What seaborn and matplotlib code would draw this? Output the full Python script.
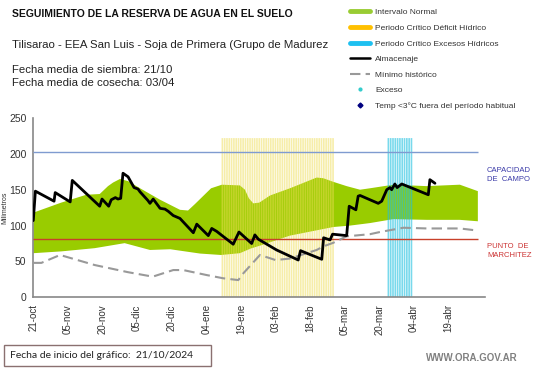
import numpy as np
import matplotlib
matplotlib.use("Agg")
import matplotlib.pyplot as plt
from matplotlib.lines import Line2D
from matplotlib.patches import Rectangle
import seaborn as sns

# Dias contados desde el inicio del grafico (21/10/2024)
alm_dia = [0.0, 0.9, 9.0, 9.5, 16.0, 16.9, 28.8, 29.8, 32.7, 33.8, 35.6, 36.7, 37.9,
           38.9, 41.1, 43.7, 45.4, 46.3, 49.7, 50.6, 52.0, 55.0, 57.1, 58.5, 60.7,
           63.6, 69.4, 70.9, 75.9, 77.4, 79.5, 86.7, 89.2, 94.7, 96.1, 97.6, 105.5,
           114.9, 115.9, 125.1, 125.9, 128.7, 129.8, 135.9, 137.0, 139.9, 140.9,
           141.7, 149.6, 151.1, 153.3, 154.7, 155.4, 156.8, 157.8, 159.8, 171.3,
           172.0, 174.2]
alm_mm = [107, 148, 134, 146, 133, 163, 127, 137, 127, 136, 139, 137, 138,
          173, 168, 153, 151, 147, 135, 131, 137, 124, 123, 120, 114,
          110, 90, 102, 86, 96, 92, 74, 91, 75, 87, 81, 66,
          52, 65, 53, 83, 80, 88, 86, 127, 122, 141,
          142, 131, 134, 150, 153, 150, 158, 153, 158, 143,
          164, 159]

sup_dia = [0, 12.1, 23.0, 28.8, 32.4, 34.6, 37.6, 41.1, 46.3, 55.0, 63.6, 67.1, 70.1,
           77.1, 81.8, 89.6, 91.8, 93.5, 95.4, 98.0, 102.7, 111.3, 122.9, 125.8,
           130.1, 135.9, 141.7, 146.0, 156.1, 170.6, 185.0, 192.8]
sup_mm = [118, 132, 143, 144, 155, 160, 165, 162, 152, 136, 122, 121, 130,
          152, 157, 156, 150, 138, 131, 132, 142, 152, 167, 166,
          161, 155, 150, 152, 157, 155, 157, 148]

inf_dia = [0, 12.1, 26.6, 39.6, 50.6, 59.4, 72.3, 81.4, 89.6, 94.3, 98.3, 111.3,
           130.1, 137.4, 146.0, 156.1, 170.6, 185.0, 192.8]
inf_mm = [61.5, 64, 68.5, 75.5, 66, 67, 61, 59, 61.5, 68, 72, 86,
          98, 100, 103.5, 109, 108, 108, 106]

min_dia = [0, 3.5, 11.6, 26.6, 41.1, 49.7, 52.0, 60.7, 65.0, 75.2, 82.4, 88.9, 91.1,
           98.3, 105.0, 111.3, 122.9, 125.8, 130.1, 135.9, 146.0, 150.3, 160.5,
           170.6, 185.0, 192.8]
min_mm = [48, 48, 59, 45, 35, 30, 29, 38, 38, 31, 26.5, 24, 33.5,
          59, 52, 54, 66, 71, 76, 85, 88, 91, 97,
          96, 96, 93]

# periodos criticos (dias desde el inicio)
deficit_ini, deficit_fin = 82, 130     # 11/01 - 28/02
exceso_ini, exceso_fin = 154, 164      # 24/03 - 03/04
altura_periodo = 222

capacidad_campo = 203
punto_marchitez = 81
fin_serie = 192.8

ticks_dia = list(range(0, 181, 15))
ticks_lab = ["21-oct", "05-nov", "20-nov", "05-dic", "20-dic", "04-ene", "19-ene",
             "03-feb", "18-feb", "05-mar", "20-mar", "04-abr", "19-abr"]

sns.set_style("white")
plt.rcParams['font.family'] = ['Liberation Sans', 'DejaVu Sans']

W, H = 541, 368
fig = plt.figure(figsize=(W / 100, H / 100), dpi=100)
ax = fig.add_axes([33.3 / W, 70.7 / H, (485 - 33.3) / W, (297.3 - 118) / H])

verde = '#99cc00'
# intervalo normal
ax.fill(list(sup_dia) + inf_dia[::-1], list(sup_mm) + inf_mm[::-1],
        color=verde, lw=0, zorder=1)

# periodos criticos, barras diarias
dias_def = np.arange(deficit_ini, deficit_fin + 1)
ax.bar(dias_def, [altura_periodo] * len(dias_def), width=0.72, color='#eedd55',
       alpha=0.5, lw=0, zorder=2, snap=False)
dias_exc = np.arange(exceso_ini, exceso_fin + 1)
ax.bar(dias_exc, [altura_periodo] * len(dias_exc), width=0.72, color='#20c0e0',
       alpha=0.6, lw=0, zorder=2, snap=False)

ax.hlines(capacidad_campo, 0, fin_serie, color='#7f9bd0', lw=1, zorder=3)
ax.hlines(punto_marchitez, 0, fin_serie, color='#c8402a', lw=1, zorder=3)

sns.lineplot(x=min_dia, y=min_mm, ax=ax, color='#999999', lw=1.5, sort=False,
             linestyle=(0, (5, 2.5)), zorder=4)
sns.lineplot(x=alm_dia, y=alm_mm, ax=ax, color='black', lw=2, sort=False, zorder=5)

ax.set_xlim(0, 195.9)
ax.set_ylim(0, 250)
ax.set_yticks([0, 50, 100, 150, 200, 250])
ax.set_xticks(ticks_dia)
ax.set_xticklabels(ticks_lab, rotation=90)
ax.tick_params(axis='both', colors='#888888', labelcolor='#333333', length=3,
               width=1, direction='out', labelsize=7)
ax.tick_params(axis='x', pad=2, labelsize=7)
ax.tick_params(axis='y', pad=2, labelsize=7.5)
for s in ['top', 'right']:
    ax.spines[s].set_visible(False)
for s in ['left', 'bottom']:
    ax.spines[s].set_color('#888888')
    ax.spines[s].set_linewidth(1.2)
ax.set_ylabel("Milimetros", fontsize=5, color='#333333')
ax.yaxis.set_label_coords(-0.055, 0.5)
ax.set_xlabel("")

# textos del encabezado
fig.text(12 / W, 1 - 14 / H, "SEGUIMIENTO DE LA RESERVA DE AGUA EN EL SUELO",
         fontsize=7.5, fontweight='bold', va='center', color='#111111')
fig.text(12 / W, 1 - 45 / H, "Tilisarao - EEA San Luis - Soja de Primera (Grupo de Madurez",
         fontsize=8.2, va='center', color='#222222')
fig.text(12 / W, 1 - 70 / H, "Fecha media de siembra: 21/10", fontsize=8.2, va='center',
         color='#222222')
fig.text(12 / W, 1 - 83 / H, "Fecha media de cosecha: 03/04", fontsize=8.2, va='center',
         color='#222222')

handles = [
    Line2D([0], [0], color='#99cc33', lw=3.5),
    Line2D([0], [0], color='#ffc000', lw=3.5),
    Line2D([0], [0], color='#1ec0f0', lw=3.5),
    Line2D([0], [0], color='black', lw=1.8),
    Line2D([0], [0], color='#999999', lw=1.5, linestyle=(0, (5, 2.5))),
    Line2D([0], [0], color='#33cccc', marker='o', markersize=2, lw=0),
    Line2D([0], [0], color='#000080', marker='D', markersize=2.5, lw=0),
]
labels = ["Intervalo Normal", "Periodo Crítico Déficit Hídrico",
          "Periodo Crítico Excesos Hídricos", "Almacenaje", "Mínimo histórico",
          "Exceso", "Temp <3°C fuera del período habitual"]
leg = fig.legend(handles, labels, loc='upper left', bbox_to_anchor=(350 / W, 1 - 8.5 / H),
                 frameon=False, fontsize=6, handlelength=2.4, handletextpad=0.6,
                 labelspacing=0.93, borderpad=0, borderaxespad=0)
for t in leg.get_texts():
    t.set_color('#333333')

fig.text(487 / W, 1 - 175 / H, "CAPACIDAD\nDE  CAMPO", fontsize=5.5, color='#3a3aa8',
         va='center', linespacing=1.3)
fig.text(487 / W, 1 - 251 / H, "PUNTO  DE\nMARCHITEZ", fontsize=5.5, color='#cc3333',
         va='center', linespacing=1.3)

# recuadro de fecha de inicio
fig.patches.append(Rectangle((3.5 / W, 1 - 366 / H), (211 - 3.5) / W, 21 / H,
                             transform=fig.transFigure, fc='white', ec='#8a7070', lw=1))
fig.text(10 / W, 1 - 355.5 / H, "Fecha de inicio del gráfico:  21/10/2024", fontsize=7.5,
         family=['Lato', 'DejaVu Sans'], va='center', color='#222222')
fig.text(518 / W, 1 - 358 / H, "WWW.ORA.GOV.AR", fontsize=7, fontweight='bold',
         color='#808080', ha='right', va='center')

fig.savefig('out.png', dpi=100)
